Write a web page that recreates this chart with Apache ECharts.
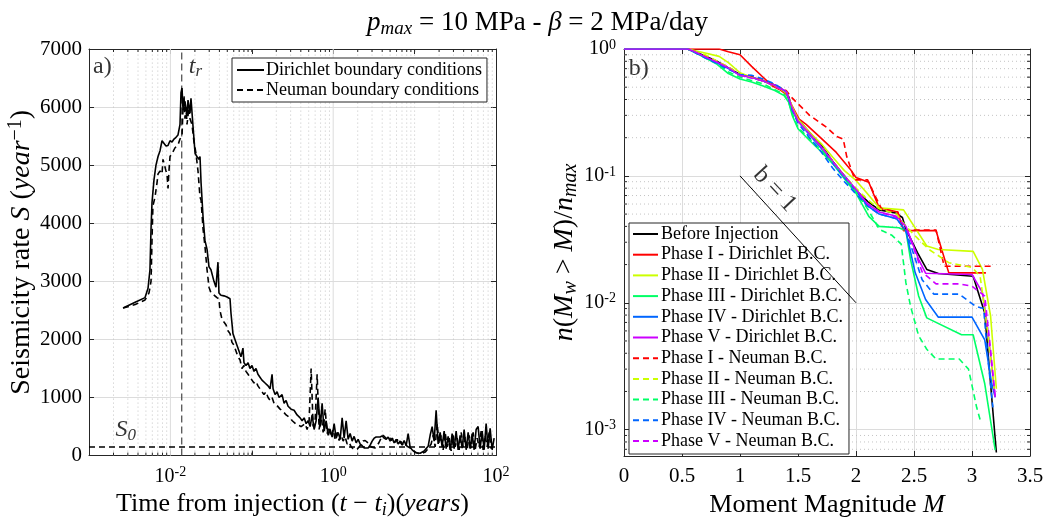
<!DOCTYPE html>
<html><head><meta charset="utf-8">
<script src="https://cdn.jsdelivr.net/npm/echarts@6/dist/echarts.min.js"></script>
<style>html,body{margin:0;padding:0;background:#fff}#c{width:1048px;height:524px}</style>
</head><body><div id="c"></div>
<script>
const FONT = 'Liberation Serif';

// ---------- Panel a): seismicity rate vs time (t, S) ----------
const dirichlet = [[0.00262,2540],[0.00369,2640],[0.00488,2720],[0.00531,2880],[0.00561,3200],[0.00578,3900],[0.00594,4350],[0.00629,4750],[0.00665,5000],[0.00705,5150],[0.00746,5250],[0.00789,5420],[0.00834,5450],[0.00883,5330],[0.00935,5340],[0.00989,5420],[0.01047,5400],[0.01107,5450],[0.01172,5480],[0.0124,5520],[0.01312,5700],[0.0135,6250],[0.01389,6330],[0.0143,5950],[0.0151,6100],[0.016,5850],[0.01645,6120],[0.01741,5900],[0.0179,6150],[0.019,5650],[0.0201,5200],[0.0212,5150],[0.0224,5100],[0.0231,5150],[0.0238,4700],[0.0252,4100],[0.0266,3700],[0.0282,3550],[0.0298,3250],[0.0315,3200],[0.0343,3000],[0.0363,2900],[0.0384,3330],[0.0395,2800],[0.0418,2760],[0.0455,2750],[0.0496,2730],[0.054,2700],[0.0555,2450],[0.0587,2100],[0.0621,2000],[0.0657,1900],[0.0696,1800],[0.0736,1700],[0.0779,1850],[0.0801,1600],[0.0848,1550],[0.09,1600],[0.095,1500],[0.1005,1550],[0.1064,1450],[0.1126,1500],[0.119,1400],[0.126,1350],[0.1334,1300],[0.1454,1250],[0.1584,1200],[0.1676,1150],[0.1774,1400],[0.1825,1150],[0.1931,1050],[0.2044,1100],[0.2163,1000],[0.2355,1050],[0.2492,900],[0.2637,950],[0.279,850],[0.3037,800],[0.3306,780],[0.36,700],[0.3924,650],
[0.4152,600],[0.4394,650],[0.465,550],[0.492,600],[0.5211,500],[0.551,700],[0.583,450],[0.617,600],[0.653,1000],[0.691,500],[0.731,900],[0.774,420],[0.819,600],[0.867,350],[0.917,450],[0.97,320],[1.027,550],[1.087,300],[1.15,400],[1.217,280],[1.288,650],[1.363,300],[1.442,600],[1.526,280],[1.615,380],[1.709,250],[1.808,330],[1.914,220],[2.025,280],[2.143,200],[2.268,170],[2.4,130],[2.539,110],[2.687,130],[2.844,180],[3.009,250],[3.184,300],[3.37,320],[3.566,350],[3.773,320],[3.993,340],[4.225,300],[4.471,280],[4.731,320],[5.007,250],[5.298,300],[5.607,220],[5.933,280],[6.278,200],[6.644,250],[7.03,180],[7.44,260],[7.873,170],[8.331,380],[8.816,140],[9.329,100],[9.872,70],[10.45,50],[11.05,40],[11.7,40],[12.38,50],[13.1,80],[13.86,120],[14.67,160],[15.52,350],[16.43,500],[17.38,250],[18.39,780],[19.46,200],[20.6,400],[21.79,150],[23.06,420],[24.41,120],[25.83,330],[27.33,100],[28.92,380],[30.6,120],[32.38,420],[34.27,100],[36.26,350],[38.37,130],[40.61,450],[42.97,100],[45.47,400],[48.12,120],[50.92,380],[53.88,100],[57.01,450],[60.33,500],[63.84,120],[67.56,420],[71.49,100],[75.65,550],[80.05,120],[84.71,470],[89.64,100],[94.86,300]];

const neuman = [[0.00262,2540],[0.00369,2600],[0.00488,2680],[0.00546,2800],[0.00578,3000],[0.00594,3700],[0.0061,4300],[0.00647,4450],[0.00685,4700],[0.00705,4850],[0.00746,4900],[0.00789,4850],[0.00811,5100],[0.00858,5100],[0.00883,4900],[0.00908,4850],[0.00935,4600],[0.0096,4900],[0.00989,5150],[0.01047,5200],[0.0114,5300],[0.0124,5350],[0.01312,5450],[0.01389,5500],[0.0143,6000],[0.01469,6200],[0.0151,5800],[0.01555,6000],[0.016,5700],[0.0169,6000],[0.01741,5800],[0.01842,5700],[0.01949,5400],[0.02063,5200],[0.02183,4900],[0.0231,4450],[0.0238,4400],[0.0252,3900],[0.0266,3600],[0.0282,3200],[0.0298,2900],[0.0315,2800],[0.0334,2780],[0.0353,2750],[0.0373,2720],[0.0395,2700],[0.0406,2500],[0.043,2350],[0.0455,2300],[0.0483,2250],[0.051,2150],[0.054,2100],[0.0571,1950],[0.0604,1900],[0.0639,1800],[0.0676,1700],[0.0716,1650],[0.0757,1500],[0.0801,1550],[0.0848,1450],[0.09,1400],[0.095,1350],[0.1005,1300],[0.1064,1250],[0.1126,1280],[0.119,1200],[0.126,1150],[0.1334,1100],[0.1412,1050],[0.149,1100],[0.1584,1000],[0.1676,950],[0.1774,1000],[0.1877,900],[0.199,880],[0.2103,850],[0.2225,800],[0.2355,780],[0.2492,750],[0.2637,700],[0.279,680],[0.2955,650],[0.314,600],[0.3306,570],[0.35,540],[0.37,520],
[0.4037,500],[0.4271,480],[0.452,550],[0.4783,450],[0.5061,600],[0.5356,1500],[0.5668,500],[0.5997,600],[0.6347,1400],[0.6717,450],[0.7108,700],[0.752,400],[0.7962,800],[0.8425,380],[0.8919,500],[0.9433,320],[0.9978,450],[1.0565,280],[1.118,400],[1.183,260],[1.252,350],[1.325,250],[1.402,320],[1.483,200],[1.57,230],[1.661,150],[1.758,120],[1.86,100],[1.969,110],[2.083,150],[2.204,200],[2.333,250],[2.469,260],[2.612,240],[2.764,200],[2.926,150],[3.095,120],[3.275,130],[3.467,170],[3.668,230],[3.881,300],[4.108,350],[4.346,320],[4.599,280],[4.867,320],[5.151,260],[5.45,300],[5.768,230],[6.103,280],[6.458,200],[6.835,240],[7.232,180],[7.653,200],[8.099,160],[8.57,150],[9.069,120],[9.597,90],[10.16,60],[10.75,40],[11.37,30],[12.04,30],[12.74,40],[13.48,60],[14.26,100],[15.09,150],[15.97,200],[16.9,350],[17.88,150],[18.92,550],[20.02,200],[21.19,350],[22.42,100],[23.72,400],[25.11,150],[26.57,300],[28.11,80],[29.75,350],[31.48,150],[33.31,300],[35.25,100],[37.3,400],[39.47,150],[41.77,320],[44.2,100],[46.77,350],[49.5,130],[52.38,400],[55.43,100],[58.65,300],[62.06,150],[65.67,420],[69.5,100],[73.54,350],[77.82,150],[82.35,400],[87.14,120],[92.21,250]];

const tR = 0.01377;     // t_r marker
const S0 = 160;         // background rate
const leftLabels = [ ['a)', 0.00112, 6700], ['{i|t}{sub|r}', 0.0168, 6700], ['{i|S}{sub|0}', 0.00212, 440] ];

// ---------- Panel b): n(Mw>M)/nmax vs M ----------
const beforeInj = [[0,1],[0.55,1],[0.6,0.96],[0.7,0.88],[0.8,0.8],[0.9,0.71],[1.0,0.63],[1.1,0.6],[1.2,0.56],[1.3,0.52],[1.38,0.47],[1.42,0.42],[1.45,0.34],[1.5,0.28],[1.6,0.22],[1.7,0.175],[1.8,0.13],[1.9,0.1],[2.0,0.077],[2.1,0.063],[2.2,0.054],[2.34,0.051],[2.4,0.047],[2.43,0.038],[2.53,0.0248],[2.61,0.0183],[2.71,0.017],[3.01,0.0162],[3.11,0.0083],[3.16,0.0023],[3.21,0.00066]];
const dir1 = [[0,1],[0.82,1],[0.9,0.95],[1.0,0.9],[1.1,0.73],[1.19,0.61],[1.28,0.51],[1.34,0.48],[1.4,0.44],[1.45,0.355],[1.51,0.28],[1.57,0.255],[1.68,0.206],[1.83,0.153],[1.95,0.113],[2.0,0.097],[2.11,0.089],[2.2,0.056],[2.36,0.052],[2.41,0.037],[2.69,0.037],[2.8,0.0172],[3.12,0.0172]];
const dir2 = [[0,1],[0.55,1],[0.7,0.93],[0.82,0.875],[0.9,0.78],[1.0,0.65],[1.1,0.6],[1.2,0.56],[1.3,0.52],[1.4,0.45],[1.45,0.35],[1.5,0.28],[1.6,0.22],[1.7,0.18],[1.8,0.14],[1.9,0.11],[2.0,0.092],[2.09,0.074],[2.2,0.056],[2.41,0.054],[2.61,0.028],[2.71,0.0263],[3.01,0.0254],[3.09,0.0183],[3.16,0.0079],[3.21,0.0021]];
const dir3 = [[0,1],[0.55,1],[0.65,0.9],[0.8,0.76],[0.9,0.64],[1.0,0.58],[1.1,0.55],[1.2,0.51],[1.3,0.47],[1.38,0.43],[1.42,0.38],[1.45,0.3],[1.5,0.235],[1.6,0.19],[1.7,0.155],[1.8,0.125],[1.9,0.095],[2.0,0.073],[2.11,0.048],[2.2,0.04],[2.37,0.039],[2.43,0.037],[2.47,0.022],[2.54,0.0113],[2.61,0.0076],[2.91,0.0056],[3.01,0.0056],[3.11,0.0023],[3.2,0.00069]];
const dir4 = [[0,1],[0.55,1],[0.6,0.95],[0.7,0.86],[0.8,0.78],[0.9,0.7],[1.0,0.62],[1.1,0.6],[1.2,0.56],[1.3,0.52],[1.4,0.46],[1.45,0.33],[1.5,0.27],[1.6,0.21],[1.7,0.165],[1.8,0.125],[1.9,0.097],[2.0,0.076],[2.1,0.058],[2.2,0.05],[2.35,0.046],[2.43,0.037],[2.51,0.0173],[2.6,0.0106],[2.71,0.0077],[3.0,0.0077],[3.11,0.0051],[3.17,0.0023],[3.2,0.0018]];
const dir5 = [[0,1],[0.55,1],[0.6,0.96],[0.7,0.87],[0.8,0.79],[0.9,0.71],[1.0,0.62],[1.1,0.6],[1.2,0.56],[1.3,0.52],[1.4,0.46],[1.45,0.34],[1.5,0.27],[1.6,0.215],[1.7,0.17],[1.8,0.13],[1.9,0.1],[2.0,0.078],[2.1,0.06],[2.2,0.052],[2.35,0.048],[2.43,0.04],[2.54,0.022],[2.6,0.0171],[3.0,0.0167],[3.09,0.012],[3.13,0.0069],[3.2,0.0018]];
const neu1 = [[0,1],[0.55,1],[0.65,0.93],[0.8,0.8],[0.9,0.72],[1.0,0.63],[1.1,0.61],[1.2,0.57],[1.3,0.52],[1.4,0.47],[1.44,0.42],[1.6,0.3],[1.75,0.24],[1.83,0.205],[1.89,0.195],[1.92,0.142],[1.99,0.093],[2.1,0.093],[2.17,0.068],[2.22,0.055],[2.36,0.052],[2.41,0.0375],[2.69,0.0375],[2.76,0.0194],[3.18,0.0194]];
const neu2 = [[0,1],[0.55,1],[0.7,0.9],[0.9,0.72],[1.0,0.63],[1.2,0.56],[1.4,0.46],[1.45,0.34],[1.5,0.27],[1.7,0.17],[1.9,0.1],[2.0,0.08],[2.1,0.065],[2.2,0.055],[2.35,0.05],[2.43,0.04],[2.54,0.0316],[2.63,0.0263],[2.8,0.0207],[3.0,0.019],[3.07,0.0162],[3.14,0.0055],[3.19,0.0021]];
const neu3 = [[0,1],[0.55,1],[0.65,0.91],[0.8,0.77],[0.9,0.66],[1.0,0.6],[1.2,0.53],[1.38,0.44],[1.42,0.38],[1.45,0.31],[1.5,0.24],[1.7,0.16],[1.9,0.1],[2.0,0.075],[2.1,0.055],[2.2,0.038],[2.31,0.034],[2.39,0.029],[2.43,0.0144],[2.47,0.0094],[2.54,0.0055],[2.61,0.0043],[2.69,0.0036],[2.89,0.0036],[2.97,0.003],[3.04,0.0015],[3.07,0.0012]];
const neu4 = [[0,1],[0.55,1],[0.6,0.95],[0.7,0.85],[0.8,0.77],[0.9,0.69],[1.0,0.63],[1.1,0.62],[1.2,0.58],[1.3,0.53],[1.4,0.46],[1.45,0.33],[1.5,0.26],[1.6,0.2],[1.7,0.155],[1.8,0.115],[1.9,0.09],[2.0,0.072],[2.1,0.058],[2.2,0.05],[2.35,0.046],[2.43,0.037],[2.57,0.0152],[2.67,0.0117],[2.89,0.0117],[3.03,0.0094],[3.1,0.009],[3.14,0.0034],[3.18,0.0015]];
const neu5 = [[0,1],[0.55,1],[0.6,0.96],[0.7,0.87],[0.8,0.79],[0.9,0.71],[1.0,0.62],[1.2,0.56],[1.4,0.46],[1.45,0.34],[1.5,0.27],[1.7,0.17],[1.9,0.1],[2.0,0.078],[2.1,0.06],[2.2,0.052],[2.35,0.047],[2.43,0.04],[2.57,0.0175],[2.69,0.0141],[2.89,0.0141],[3.0,0.0135],[3.11,0.0113],[3.16,0.0043],[3.2,0.0018]];

const seriesNames = ['Before Injection','Phase I - Dirichlet B.C.','Phase II - Dirichlet B.C.','Phase III - Dirichlet B.C.','Phase IV - Dirichlet B.C.','Phase V - Dirichlet B.C.','Phase I - Neuman B.C.','Phase II - Neuman B.C.','Phase III - Neuman B.C.','Phase IV - Neuman B.C.','Phase V - Neuman B.C.'];
const seriesData = [beforeInj, dir1, dir2, dir3, dir4, dir5, neu1, neu2, neu3, neu4, neu5];
const seriesColors = ['#000000','#ff0000','#ccff00','#00ff66','#0066ff','#cc00ff','#ff0000','#ccff00','#00ff66','#0066ff','#cc00ff'];

const bLine = [[1.0, 0.1], [2.0, 0.01]];
const bLabel = [1.3, 0.078];
const rightLabels = [['b)', 0.04, 0.7]];

// ---------- helpers ----------
function richSized(size) {
  const s = Math.round(size * 0.7), p = Math.round(size * 0.42);
  return {
    i: {fontFamily: FONT, fontStyle: 'italic', fontSize: size, color: '#000'},
    sub: {fontFamily: FONT, fontStyle: 'italic', fontSize: s, color: '#000', verticalAlign: 'bottom', padding: [p, 0, 0, 0]},
    sup: {fontFamily: FONT, fontSize: s, color: '#000', verticalAlign: 'top', padding: [0, 0, p, 0]}
  };
}
const GRIDC = '#dcdcdc', MINC = '#c4c4c4', AXC = '#262626';
const LABEL_FS = 26, TICK_FS = 21;

const xMinLeft = 0.001, xMaxLeft = 100, yMaxLeft = 7000;
const yMinRight = 0.00062, yMaxRight = 1, xMaxRight = 3.5;

const leftMajorX = [0.01, 1];
const leftMinorX = [];
for (let k = -3; k <= 1; k++) for (let m = 1; m <= 9; m++) {
  const v = +(m * Math.pow(10, k)).toPrecision(3);
  if (v === 0.001 || v === 0.01 || v === 1) continue;
  leftMinorX.push(v);
}
const rightMinorY = [];
for (let k = -4; k <= -1; k++) for (let m = 2; m <= 9; m++) {
  const v = +(m * Math.pow(10, k)).toPrecision(3);
  if (v > yMinRight && v < 1) rightMinorY.push(v);
}

function vLines(xi, yi, y0, y1, values, style, tick, z) {
  return {type: 'custom', xAxisIndex: xi, yAxisIndex: yi, silent: true, z: z || 1, clip: false,
    data: values.map(v => [v, y0]),
    renderItem: (p, api) => {
      const a = api.coord([api.value(0), y0]), b = api.coord([api.value(0), y1]);
      const ch = [{type: 'line', shape: {x1: a[0], y1: a[1], x2: b[0], y2: b[1]}, style}];
      if (tick) {
        ch.push({type: 'line', shape: {x1: a[0], y1: a[1], x2: a[0], y2: a[1] - tick}, style: {stroke: AXC, lineWidth: 1}});
        ch.push({type: 'line', shape: {x1: b[0], y1: b[1], x2: b[0], y2: b[1] + tick}, style: {stroke: AXC, lineWidth: 1}});
      }
      return {type: 'group', children: ch};
    }};
}
function hLines(xi, yi, x0, x1, values, style, tick) {
  return {type: 'custom', xAxisIndex: xi, yAxisIndex: yi, silent: true, z: 1, clip: false,
    data: values.map(v => [x0, v]),
    renderItem: (p, api) => {
      const a = api.coord([x0, api.value(1)]), b = api.coord([x1, api.value(1)]);
      const ch = [{type: 'line', shape: {x1: a[0], y1: a[1], x2: b[0], y2: b[1]}, style}];
      if (tick) {
        ch.push({type: 'line', shape: {x1: a[0], y1: a[1], x2: a[0] + tick, y2: a[1]}, style: {stroke: AXC, lineWidth: 1}});
        ch.push({type: 'line', shape: {x1: b[0], y1: b[1], x2: b[0] - tick, y2: b[1]}, style: {stroke: AXC, lineWidth: 1}});
      }
      return {type: 'group', children: ch};
    }};
}
function logLabel(show) {
  return v => {
    const e = Math.round(Math.log10(v));
    if (Math.abs(Math.log10(v) - e) > 1e-6) return '';
    if (show && show.indexOf(e) < 0) return '';
    return '10{sup|' + e + '}';
  };
}
const axBase = {
  axisLine: {show: true, onZero: false, lineStyle: {color: AXC, width: 1}},
  axisTick: {show: true, inside: true, length: 5, lineStyle: {color: AXC}},
  nameTextStyle: {fontFamily: FONT, fontSize: LABEL_FS, color: '#000', rich: richSized(LABEL_FS)}
};
function mirror(extra) {
  return Object.assign({}, axBase, {axisLabel: {show: false}, splitLine: {show: false}}, extra);
}

const chart = echarts.init(document.getElementById('c'), null, {renderer: 'canvas'});

const series = [];
series.push(vLines(0, 0, 0, yMaxLeft, leftMinorX, {stroke: MINC, lineDash: [1, 3], lineWidth: 1}, 3));
series.push(vLines(0, 0, 0, yMaxLeft, leftMajorX, {stroke: GRIDC, lineWidth: 1}, 0));
series.push(vLines(0, 0, 0, yMaxLeft, [tR], {stroke: '#555', lineDash: [7, 4], lineWidth: 1.3}, 0, 4));
series.push(hLines(1, 1, 0, xMaxRight, rightMinorY, {stroke: MINC, lineDash: [1, 3], lineWidth: 1}, 3));

series.push({type: 'line', name: 'Dirichlet boundary conditions', xAxisIndex: 0, yAxisIndex: 0, data: dirichlet,
  symbol: 'none', showSymbol: false, z: 5, lineStyle: {color: '#000', width: 1.6}, itemStyle: {color: '#000'},
  markLine: {silent: true, symbol: 'none', label: {show: false},
    data: [{yAxis: S0, lineStyle: {color: '#000', type: [6, 4], width: 1.5}}]}});
series.push({type: 'line', name: 'Neuman boundary conditions', xAxisIndex: 0, yAxisIndex: 0, data: neuman,
  symbol: 'none', showSymbol: false, z: 5, lineStyle: {color: '#000', width: 1.6, type: [6, 4]}, itemStyle: {color: '#000'}});
series.push({type: 'scatter', xAxisIndex: 0, yAxisIndex: 0, silent: true, symbolSize: 0, z: 6,
  data: leftLabels.map(l => ({value: [l[1], l[2]], label: {formatter: l[0]}})),
  label: {show: true, position: 'right', distance: 0, fontFamily: FONT, fontSize: 24, color: '#000', rich: richSized(24)}});

seriesNames.forEach((n, i) => {
  series.push({type: 'line', name: n, xAxisIndex: 1, yAxisIndex: 1, data: seriesData[i],
    symbol: 'none', showSymbol: false, z: 5 + i,
    lineStyle: {color: seriesColors[i], width: 1.6, type: i >= 6 ? [6, 4] : 'solid'},
    itemStyle: {color: seriesColors[i]}});
});
series.push({type: 'line', xAxisIndex: 1, yAxisIndex: 1, data: bLine, symbol: 'none', silent: true, z: 4,
  lineStyle: {color: '#000', width: 1}});
series.push({type: 'scatter', xAxisIndex: 1, yAxisIndex: 1, silent: true, symbolSize: 0, z: 6,
  data: [{value: bLabel, label: {formatter: 'b = 1', rotate: -47, position: 'inside'}}],
  label: {show: true, fontFamily: FONT, fontSize: 25, color: '#000'}});
series.push({type: 'scatter', xAxisIndex: 1, yAxisIndex: 1, silent: true, symbolSize: 0, z: 6,
  data: rightLabels.map(l => ({value: [l[1], l[2]], label: {formatter: l[0]}})),
  label: {show: true, position: 'right', distance: 0, fontFamily: FONT, fontSize: 24, color: '#000'}});

const legendBase = {orient: 'vertical', backgroundColor: '#fff', borderColor: AXC, borderWidth: 1, borderRadius: 0,
  selectedMode: false, itemStyle: {opacity: 0}, itemHeight: 12};

const option = {
  animation: false,
  backgroundColor: '#fff',
  title: {text: '{i|p}{sub|max} = 10 MPa - {i|β} = 2 MPa/day', left: 362, top: 3,
    textStyle: {fontFamily: FONT, fontSize: 27, fontWeight: 'normal', color: '#000', rich: richSized(27)}},
  grid: [
    {left: 89, top: 49, width: 407, height: 407},
    {left: 624, top: 49, width: 406, height: 407}
  ],
  xAxis: [
    Object.assign({}, axBase, {type: 'log', gridIndex: 0, min: xMinLeft, max: xMaxLeft, logBase: 10,
      name: 'Time from injection ({i|t} − {i|t}{sub|i})({i|years})', nameLocation: 'middle', nameGap: 34,
      axisLabel: {formatter: logLabel([-2, 0, 2]), margin: 10, fontFamily: FONT, fontSize: 20, color: '#000', rich: richSized(20)},
      splitLine: {show: false}}),
    Object.assign({}, axBase, {type: 'value', gridIndex: 1, min: 0, max: xMaxRight, interval: 0.5,
      name: 'Moment Magnitude {i|M}', nameLocation: 'middle', nameGap: 26,
      axisLabel: {margin: 10, fontFamily: FONT, fontSize: TICK_FS, color: '#000'},
      splitLine: {show: true, lineStyle: {color: GRIDC, width: 1}}}),
    mirror({type: 'log', gridIndex: 0, position: 'top', min: xMinLeft, max: xMaxLeft, logBase: 10}),
    mirror({type: 'value', gridIndex: 1, position: 'top', min: 0, max: xMaxRight, interval: 0.5})
  ],
  yAxis: [
    Object.assign({}, axBase, {type: 'value', gridIndex: 0, min: 0, max: yMaxLeft, interval: 1000,
      name: 'Seismicity rate {i|S} ({i|year}{sup|−1})', nameLocation: 'middle', nameGap: 50,
      nameTextStyle: {fontFamily: FONT, fontSize: 28, color: '#000', rich: richSized(28)},
      axisLabel: {margin: 7, fontFamily: FONT, fontSize: TICK_FS, color: '#000', formatter: v => String(v)},
      splitLine: {show: true, lineStyle: {color: GRIDC, width: 1}}}),
    Object.assign({}, axBase, {type: 'log', gridIndex: 1, min: yMinRight, max: yMaxRight, logBase: 10,
      name: '{i|n}({i|M}{sub|w} > {i|M})/{i|n}{sub|max}', nameLocation: 'middle', nameGap: 40,
      nameTextStyle: {fontFamily: FONT, fontSize: 28, color: '#000', rich: richSized(28)},
      axisLabel: {formatter: logLabel(null), margin: 8, fontFamily: FONT, fontSize: 20, color: '#000', rich: richSized(20)},
      splitLine: {show: true, lineStyle: {color: GRIDC, width: 1}}}),
    mirror({type: 'value', gridIndex: 0, position: 'right', min: 0, max: yMaxLeft, interval: 1000}),
    mirror({type: 'log', gridIndex: 1, position: 'right', min: yMinRight, max: yMaxRight, logBase: 10})
  ],
  legend: [
    Object.assign({}, legendBase, {data: ['Dirichlet boundary conditions', 'Neuman boundary conditions'], left: 232, top: 58,
      itemWidth: 27, itemGap: 2, padding: [3, 5, 3, 4],
      textStyle: {fontFamily: FONT, fontSize: 18, color: '#000', padding: [0, 0, 0, -3]}}),
    Object.assign({}, legendBase, {data: seriesNames, left: 629, top: 223,
      itemWidth: 25, itemGap: 2.7, padding: [2, 6, 4, 3],
      textStyle: {fontFamily: FONT, fontSize: 18, color: '#000', padding: [0, 0, 0, -2]}})
  ],
  series: series
};
chart.setOption(option);
</script></body></html>
